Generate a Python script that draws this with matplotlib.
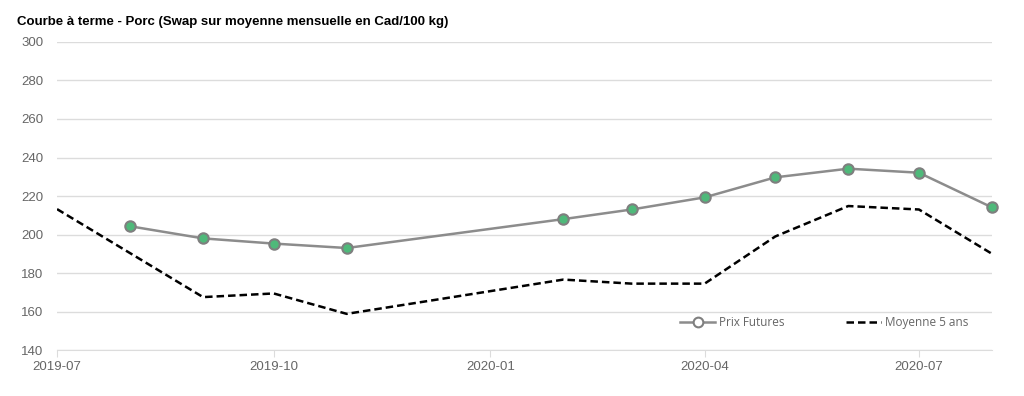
import matplotlib.pyplot as plt
import matplotlib.dates as mdates
from matplotlib.lines import Line2D
import pandas as pd

plt.rcParams['font.family'] = ['Liberation Sans', 'DejaVu Sans']

futures_months = ['2019-08', '2019-09', '2019-10', '2019-11', '2020-02', '2020-03',
                  '2020-04', '2020-05', '2020-06', '2020-07', '2020-08']
futures_vals = [204.3, 198.0, 195.3, 193.0, 208.0, 213.0, 219.3, 229.7, 234.2, 232.1, 214.1]

avg_months = ['2019-07', '2019-09', '2019-10', '2019-11', '2020-02', '2020-03',
              '2020-04', '2020-05', '2020-06', '2020-07', '2020-08']
avg_vals = [213.2, 167.5, 169.4, 158.8, 176.6, 174.5, 174.5, 199.0, 214.8, 213.0, 190.0]

xticks = ['2019-07', '2019-10', '2020-01', '2020-04', '2020-07']
yticks = [140, 160, 180, 200, 220, 240, 260, 280, 300]

fx = pd.to_datetime(futures_months)
ax_dates = pd.to_datetime(avg_months)

fig = plt.figure(figsize=(10.24, 3.96), dpi=100)
ax = fig.add_axes([0.0557, 0.116, 0.913, 0.778])

grey_txt = '#666666'
ax.plot(fx, futures_vals, '-', color='#8c8c8c', linewidth=1.8, marker='o', markersize=7.5,
        markerfacecolor='#4fb97a', markeredgecolor='#7f7f7f', markeredgewidth=1.5,
        zorder=3, clip_on=False)
ax.plot(ax_dates, avg_vals, '--', color='black', linewidth=1.8, dashes=(3, 1.6), zorder=2)

ax.set_xlim(pd.Timestamp('2019-07-01'), pd.Timestamp('2020-08-01'))
ax.set_ylim(140, 300)
ax.set_yticks(yticks)
ax.set_xticks(pd.to_datetime(xticks))
ax.xaxis.set_major_formatter(mdates.DateFormatter('%Y-%m'))

ax.grid(axis='y', color='#dcdcdc', linewidth=1)
ax.set_axisbelow(True)
for s in ['top', 'right', 'left']:
    ax.spines[s].set_visible(False)
ax.spines['bottom'].set_color('#dcdcdc')
ax.tick_params(axis='y', length=0, pad=10, labelsize=9.5, labelcolor=grey_txt)
ax.tick_params(axis='x', length=5, color='#dcdcdc', pad=3, labelsize=9.5, labelcolor=grey_txt)

handles = [
    Line2D([], [], color='#8c8c8c', linewidth=1.8, marker='o', markersize=7,
           markerfacecolor='white', markeredgecolor='#7f7f7f', markeredgewidth=1.5),
    Line2D([], [], color='black', linewidth=1.8, linestyle='--', dashes=(3, 1.6)),
]
ax.legend(handles, ['Prix Futures', 'Moyenne 5 ans'], loc='center left',
          bbox_to_anchor=(0.655, 0.09), ncol=2, frameon=False,
          labelcolor=grey_txt, handlelength=3, handletextpad=0.3, columnspacing=5.2,
          prop={'family': ['Open Sans', 'DejaVu Sans'], 'size': 8.5})

fig.text(0.017, 0.945, 'Courbe à terme - Porc (Swap sur moyenne mensuelle en Cad/100 kg)',
         fontsize=9.5, fontweight='bold', ha='left', va='center')

fig.savefig('out.png', dpi=100)
